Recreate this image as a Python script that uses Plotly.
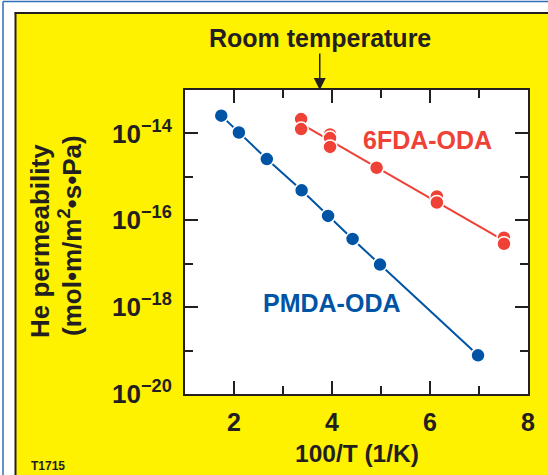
import plotly.graph_objects as go

# ---- data ----
pmda_x = [1.74, 2.10, 2.67, 3.38, 3.92, 4.42, 4.98, 6.98]
pmda_y = [2.57e-14, 1.05e-14, 2.57e-15, 4.9e-16, 1.26e-16, 3.72e-17, 9.55e-18, 7.76e-20]

fda_x = [3.37, 3.37, 3.96, 3.96, 3.96, 4.91, 6.14, 6.14, 7.51, 7.51]
fda_y = [2.14e-14, 1.26e-14, 9.5e-15, 7.8e-15, 4.9e-15, 1.62e-15, 3.55e-16, 2.57e-16, 3.98e-17, 2.88e-17]

fda_fit_x = [3.37, 7.51]
fda_fit_y = [1.66e-14, 3.39e-17]

y_tickvals = [1e-20, 1e-18, 1e-16, 1e-14]
y_ticktext = ["10<sup>−20</sup>", "10<sup>−18</sup>", "10<sup>−16</sup>", "10<sup>−14</sup>"]
y_minor = [1e-19, 1e-17, 1e-15]
x_tickvals = [2, 4, 6, 8]
x_ticktext = ["2", "4", "6", "8"]
x_minor = [3, 5, 7]

BLUE = "#0054A6"
RED = "#EF4136"
INK = "#231F20"
YELLOW = "#FFF200"
FONT = "Liberation Sans, Arial, sans-serif"

W, H = 548, 475
ML, MR, MT, MB = 185, 20, 90, 81
PW, PH = W - ML - MR, H - MT - MB


def px(x):
    return (x - ML) / PW


def py(y):
    return (H - MB - y) / PH


fig = go.Figure()
fig.add_trace(go.Scatter(x=fda_fit_x, y=fda_fit_y, mode="lines",
                         line=dict(color=RED, width=2), hoverinfo="skip", showlegend=False))
fig.add_trace(go.Scatter(x=fda_x, y=fda_y, mode="markers",
                         marker=dict(color=RED, size=14, line=dict(color="white", width=1.5)),
                         showlegend=False))
fig.add_trace(go.Scatter(x=pmda_x, y=pmda_y, mode="lines+markers",
                         line=dict(color=BLUE, width=2),
                         marker=dict(color=BLUE, size=14, line=dict(color="white", width=1.5)),
                         showlegend=False))

axis_common = dict(showline=True, linecolor=INK, linewidth=2, mirror="ticks",
                   ticks="inside", ticklen=13, tickwidth=2, tickcolor=INK,
                   showgrid=False, zeroline=False)

fig.update_xaxes(range=[1, 8], tickmode="array", tickvals=x_tickvals, ticktext=x_ticktext,
                 minor=dict(tickmode="array", tickvals=x_minor, ticks="inside", ticklen=8,
                            tickwidth=2, tickcolor=INK, showgrid=False),
                 tickfont=dict(family=FONT, size=25, color=INK, weight="bold"),
                 ticklabelstandoff=5, **axis_common)
fig.update_yaxes(type="log", range=[-20, -13], tickmode="array", tickvals=y_tickvals,
                 ticktext=y_ticktext,
                 minor=dict(tickmode="array", tickvals=y_minor, ticks="inside", ticklen=8,
                            tickwidth=2, tickcolor=INK, showgrid=False),
                 tickfont=dict(family=FONT, size=26, color=INK, weight="bold"),
                 ticklabelstandoff=6, **axis_common)

shapes = [
    # white margin strips
    dict(type="rect", xref="paper", yref="paper", x0=px(-5), x1=px(15), y0=py(480), y1=py(-5),
         fillcolor="white", line=dict(width=0), layer="below"),
    dict(type="rect", xref="paper", yref="paper", x0=px(-5), x1=px(555), y0=py(13), y1=py(-5),
         fillcolor="white", line=dict(width=0), layer="below"),
    # thin blue border
    dict(type="line", xref="paper", yref="paper", x0=px(3), x1=px(3), y0=py(480), y1=py(1.5),
         line=dict(color="#2F6DB5", width=1.5)),
    dict(type="line", xref="paper", yref="paper", x0=px(3), x1=px(555), y0=py(1.5), y1=py(1.5),
         line=dict(color="#2F6DB5", width=1.5)),
    # black panel border
    dict(type="line", xref="paper", yref="paper", x0=px(15.5), x1=px(15.5), y0=py(480), y1=py(12.5),
         line=dict(color=INK, width=2)),
    dict(type="line", xref="paper", yref="paper", x0=px(14.5), x1=px(555), y0=py(13), y1=py(13),
         line=dict(color=INK, width=2)),
]

bold = lambda size, color=INK: dict(family=FONT, size=size, color=color, weight="bold")

annotations = [
    dict(x=3.75, y=1, xref="x", yref="paper", text="Room temperature", showarrow=True,
         ax=0, ay=-52, arrowhead=2, arrowsize=1.6, arrowwidth=1.5, arrowcolor=INK,
         standoff=0, font=bold(25)),
    dict(x=5.94, y=-14.15, xref="x", yref="y", text="6FDA-ODA", showarrow=False,
         font=bold(25, RED)),
    dict(x=4.0, y=-17.9, xref="x", yref="y", text="PMDA-ODA", showarrow=False,
         font=bold(25, BLUE)),
    dict(x=0.5, y=py(453), xref="paper", yref="paper", text="100/T (1/K)", showarrow=False,
         font=bold(24.5), yanchor="middle"),
    dict(x=px(40), y=py(241), xref="paper", yref="paper", text="He permeability",
         showarrow=False, textangle=-90, font=bold(26), xanchor="center", yanchor="middle"),
    dict(x=px(70), y=py(236), xref="paper", yref="paper", text="(mol•m/m<sup>2</sup>•s•Pa)",
         showarrow=False, textangle=-90, font=bold(26), xanchor="center", yanchor="middle"),
    dict(x=px(48), y=py(466), xref="paper", yref="paper", text="T1715", showarrow=False,
         font=bold(12), xanchor="center", yanchor="middle"),
]

fig.update_layout(width=W, height=H, margin=dict(l=ML, r=MR, t=MT, b=MB, pad=0),
                  paper_bgcolor=YELLOW, plot_bgcolor="white",
                  shapes=shapes, annotations=annotations, showlegend=False)

fig.write_html("out.html", config={"displayModeBar": False},
               post_script="document.body.style.margin='0';document.body.style.overflow='hidden';")
